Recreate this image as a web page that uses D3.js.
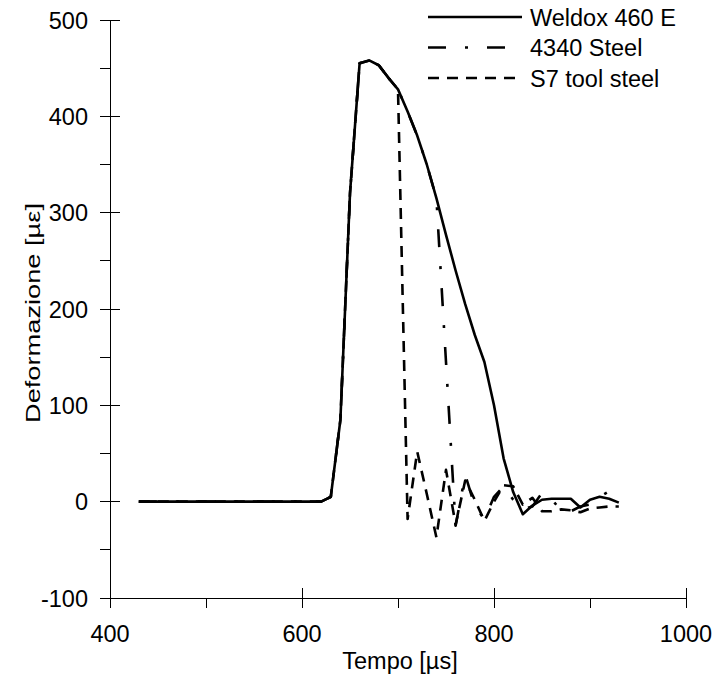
<!DOCTYPE html>
<html>
<head>
<meta charset="utf-8">
<script src="https://cdn.jsdelivr.net/npm/d3@7"></script>
<style>
  body { margin: 0; background: #fff; }
  svg text { font-family: "Liberation Sans", Arial, sans-serif; fill: #000; }
</style>
</head>
<body>
<div id="chart"></div>
<script>
// ---- Data ----
const times = [430, 440, 450, 460, 470, 480, 490, 500, 510, 520, 530, 540, 550, 560, 570, 580, 590, 600, 610, 620,
               630, 640, 650, 660, 670, 680, 690, 700, 710, 720, 730, 740, 750, 760, 770, 780, 790, 800, 810, 820,
               830, 840, 850, 860, 870, 880, 890, 900, 910, 920, 930];

const weldox = [0, 0, 0, 0, 0, 0, 0, 0, 0, 0, 0, 0, 0, 0, 0, 0, 0, 0, 0, 0,
                5, 85, 320, 455, 458, 453, 440, 428, 405, 380, 350, 315, 277, 240, 205, 173, 145, 100, 45, 10,
                -13, -4, 2, 3, 3, 3, -6, 2, 5, 3, -1];

const steel4340 = [0, 0, 0, 0, 0, 0, 0, 0, 0, 0, 0, 0, 0, 0, 0, 0, 0, 0, 0, 0,
                   5, 85, 320, 455, 458, 453, 440, 428, 405, 380, 350, 315, 145, -25, 28, -5, -18, 5, 16, 2,
                   -8, -5, 9, 3, -10, -10, -5, -3, 5, 11, 12];

const s7 = [0, 0, 0, 0, 0, 0, 0, 0, 0, 0, 0, 0, 0, 0, 0, 0, 0, 0, 0, 0,
            5, 85, 320, 455, 458, 453, 440, 428, -18, 52, 8, -37, 33, -24, 22, 2, -20, 0, 17, 16,
            -3, 4, -10, -10, -8, -9, -11, -7, -6, -5, -5];

const seriesNames = ["Weldox 460 E", "4340 Steel", "S7 tool steel"];
const seriesValues = [weldox, steel4340, s7];
const seriesDash = [null, "18,19,3,19", "11,8"];

const xMajor = [400, 600, 800, 1000];
const xMinor = [500, 700, 900];
const yMajor = [-100, 0, 100, 200, 300, 400, 500];
const yMinor = [-50, 50, 150, 250, 350, 450];

// ---- Layout ----
const W = 717, H = 679;
const plot = {left: 110, right: 686, top: 20, bottom: 598};

const svg = d3.select("#chart").append("svg")
    .attr("width", W)
    .attr("height", H);

const x = d3.scaleLinear().domain([400, 1000]).range([plot.left, plot.right]);
const y = d3.scaleLinear().domain([-100, 500]).range([plot.bottom, plot.top]);

const fontSize = 23.5;

// ---- Axes (drawn by hand to get the crossing major ticks) ----
const axes = svg.append("g").attr("stroke", "#000").attr("stroke-width", 1).attr("shape-rendering", "crispEdges");

axes.append("line")
    .attr("x1", x(400)).attr("x2", x(1000))
    .attr("y1", y(-100)).attr("y2", y(-100));
axes.append("line")
    .attr("x1", x(400)).attr("x2", x(400))
    .attr("y1", y(-100)).attr("y2", y(500));

// x ticks: major cross the axis, minor hang below
axes.selectAll(".xmaj").data(xMajor).enter().append("line")
    .attr("x1", d => x(d)).attr("x2", d => x(d))
    .attr("y1", y(-100) - 10).attr("y2", y(-100) + 10);
axes.selectAll(".xmin").data(xMinor).enter().append("line")
    .attr("x1", d => x(d)).attr("x2", d => x(d))
    .attr("y1", y(-100)).attr("y2", y(-100) + 10);

// y ticks: major cross, minor to the left
axes.selectAll(".ymaj").data(yMajor).enter().append("line")
    .attr("x1", x(400) - 10).attr("x2", x(400) + 10)
    .attr("y1", d => y(d)).attr("y2", d => y(d));
axes.selectAll(".ymin").data(yMinor).enter().append("line")
    .attr("x1", x(400) - 10).attr("x2", x(400))
    .attr("y1", d => y(d)).attr("y2", d => y(d));

svg.selectAll(".xlab").data(xMajor).enter().append("text")
    .attr("x", d => x(d))
    .attr("y", 642)
    .attr("text-anchor", "middle")
    .attr("font-size", fontSize)
    .text(d => d);

svg.selectAll(".ylab").data(yMajor).enter().append("text")
    .attr("x", 88)
    .attr("y", d => y(d) + 8.5)
    .attr("text-anchor", "end")
    .attr("font-size", fontSize)
    .text(d => d);

svg.append("text")
    .attr("x", 400)
    .attr("y", 669)
    .attr("text-anchor", "middle")
    .attr("font-size", fontSize)
    .text("Tempo [µs]");

// the y title in the original is a bit stretched along its length
svg.append("text")
    .attr("transform", `translate(33,313) rotate(-90)`)
    .attr("text-anchor", "middle")
    .attr("dy", "0.35em")
    .attr("font-size", 21)
    .attr("textLength", 220)
    .attr("lengthAdjust", "spacingAndGlyphs")
    .text("Deformazione [µε]");

// ---- Lines ----
const line = d3.line()
    .x((d, i) => x(times[i]))
    .y(d => y(d));

// draw dashed ones first so the solid curve sits on top like the original
[2, 1, 0].forEach(k => {
    svg.append("path")
        .datum(seriesValues[k])
        .attr("fill", "none")
        .attr("stroke", "#000")
        .attr("stroke-width", 2.6)
        .attr("stroke-linejoin", "round")
        .attr("stroke-dasharray", seriesDash[k])
        .attr("d", line);
});

// ---- Legend ----
const legend = svg.append("g");
seriesNames.forEach((name, k) => {
    const ly = 17 + k * 30.5;
    legend.append("line")
        .attr("x1", 428).attr("x2", 522)
        .attr("y1", ly).attr("y2", ly)
        .attr("stroke", "#000")
        .attr("stroke-width", 2.6)
        .attr("stroke-dasharray", seriesDash[k]);
    legend.append("text")
        .attr("x", 530)
        .attr("y", ly + 8.5)
        .attr("font-size", fontSize)
        .text(name);
});
</script>
</body>
</html>
